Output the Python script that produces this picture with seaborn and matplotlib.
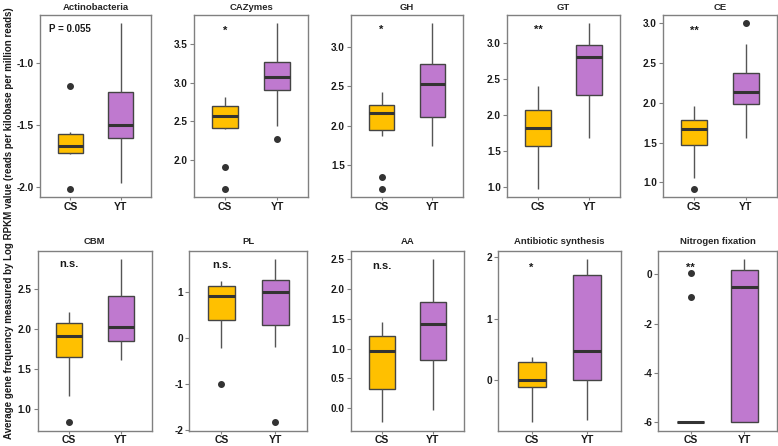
import numpy as np
import pandas as pd
import matplotlib
matplotlib.use("Agg")
import matplotlib.pyplot as plt
import seaborn as sns

# ---------------- data ----------------
groups = ["CS", "YT"]

titles = ["Actinobacteria", "CAZymes", "GH", "GT", "CE",
          "CBM", "PL", "AA", "Antibiotic synthesis", "Nitrogen fixation"]

actino_cs = [-2.01, -1.735, -1.73, -1.72, -1.70, -1.68, -1.668, -1.63, -1.60, -1.572, -1.56, -1.553, -1.19]
actino_yt = [-1.966, -1.80, -1.70, -1.607, -1.57, -1.53, -1.50, -1.42, -1.33, -1.234, -1.10, -0.90, -0.684]

cazy_cs = [1.626, 1.909, 2.40, 2.418, 2.48, 2.53, 2.565, 2.62, 2.66, 2.695, 2.74, 2.78, 2.82]
cazy_yt = [2.27, 2.44, 2.70, 2.91, 2.98, 3.03, 3.08, 3.15, 3.22, 3.27, 3.40, 3.60, 3.77]

gh_cs = [1.196, 1.34, 1.87, 1.94, 2.02, 2.10, 2.153, 2.19, 2.23, 2.255, 2.32, 2.38, 2.42]
gh_yt = [1.74, 1.90, 2.02, 2.11, 2.30, 2.42, 2.525, 2.60, 2.70, 2.78, 2.95, 3.15, 3.30]

gt_cs = [0.97, 1.20, 1.40, 1.566, 1.65, 1.74, 1.81, 1.90, 1.98, 2.066, 2.18, 2.30, 2.40]
gt_yt = [1.68, 1.95, 2.15, 2.27, 2.50, 2.68, 2.80, 2.86, 2.92, 2.97, 3.08, 3.18, 3.27]

ce_cs = [0.92, 1.054, 1.30, 1.475, 1.56, 1.63, 1.677, 1.72, 1.75, 1.78, 1.85, 1.92, 1.957]
ce_yt = [1.558, 1.75, 1.90, 1.98, 2.05, 2.10, 2.135, 2.20, 2.30, 2.375, 2.50, 2.735, 3.0]

cbm_cs = [0.835, 1.17, 1.45, 1.657, 1.75, 1.85, 1.913, 1.98, 2.04, 2.083, 2.13, 2.18, 2.215]
cbm_yt = [1.61, 1.72, 1.80, 1.85, 1.93, 1.98, 2.03, 2.15, 2.30, 2.417, 2.55, 2.70, 2.88]

pl_cs = [-0.985, -0.21, 0.15, 0.40, 0.60, 0.80, 0.93, 1.02, 1.10, 1.144, 1.18, 1.21, 1.24]
pl_yt = [-1.83, -0.20, 0.05, 0.295, 0.55, 0.80, 1.01, 1.12, 1.20, 1.27, 1.40, 1.55, 1.73]

aa_cs = [-0.233, 0.0, 0.15, 0.316, 0.60, 0.80, 0.967, 1.08, 1.15, 1.216, 1.30, 1.38, 1.445]
aa_yt = [-0.02, 0.30, 0.60, 0.81, 1.05, 1.25, 1.41, 1.55, 1.68, 1.78, 2.00, 2.25, 2.50]

anti_cs = [-0.68, -0.40, -0.20, -0.10, -0.06, -0.03, 0.0, 0.08, 0.18, 0.30, 0.34, 0.37, 0.387]
anti_yt = [-0.65, -0.40, -0.15, 0.0, 0.15, 0.30, 0.484, 0.80, 1.30, 1.715, 1.80, 1.90, 1.97]

nfix_cs = [-6, -6, -6, -6, -6, -6, -6, -6, -6, -6, -6, -0.915, 0.07]
nfix_yt = [-6, -6, -6, -6, -4.0, -2.0, -0.50, -0.30, -0.10, 0.16, 0.30, 0.45, 0.63]

panel_data = [
    (actino_cs, actino_yt), (cazy_cs, cazy_yt), (gh_cs, gh_yt), (gt_cs, gt_yt), (ce_cs, ce_yt),
    (cbm_cs, cbm_yt), (pl_cs, pl_yt), (aa_cs, aa_yt), (anti_cs, anti_yt), (nfix_cs, nfix_yt),
]

# significance labels and their y positions
sig_labels = ["P = 0.055", "*", "*", "**", "**", "n.s.", "n.s.", "n.s.", "*", "**"]
sig_y = [-0.73, 3.67, 3.22, 3.18, 2.90, 2.82, 1.59, 2.38, 1.82, 0.27]

yticks = [
    [-2.0, -1.5, -1.0], [2.0, 2.5, 3.0, 3.5], [1.5, 2.0, 2.5, 3.0],
    [1.0, 1.5, 2.0, 2.5, 3.0], [1.0, 1.5, 2.0, 2.5, 3.0],
    [1.0, 1.5, 2.0, 2.5], [-2, -1, 0, 1], [0.0, 0.5, 1.0, 1.5, 2.0, 2.5],
    [0, 1, 2], [-6, -4, -2, 0],
]
int_ticks = [False, False, False, False, False, False, True, False, True, True]

ylabel = "Average gene frequency measured by Log RPKM value (reads per kilobase per million reads)"

colors = {"CS": "#FFC000", "YT": "#BF79CF"}

# ---------------- style ----------------
sns.set_theme(style="ticks")
plt.rcParams["font.family"] = ["Liberation Sans", "DejaVu Sans"]
plt.rcParams["font.weight"] = "bold"

W, H = 778, 446
fig = plt.figure(figsize=(W / 100, H / 100), dpi=100)

# axes boxes in pixels: (left, right, top, bottom)
top_row = [(40, 151), (194, 308.3), (351, 463), (507.3, 620), (663.3, 776.7)]
bot_row = [(37.7, 151.7), (189.3, 307.3), (351, 463.7), (498.3, 620.7), (658.3, 776.7)]
boxes = [(l, r, 15, 197) for l, r in top_row] + [(l, r, 250.7, 430.5) for l, r in bot_row]

frame_col = "#808080"
line_col = "#444444"

for i, (l, r, t, b) in enumerate(boxes):
    ax = fig.add_axes([l / W, 1 - b / H, (r - l) / W, (b - t) / H])
    cs, yt = panel_data[i]
    df = pd.DataFrame({
        "group": ["CS"] * len(cs) + ["YT"] * len(yt),
        "value": list(cs) + list(yt),
    })
    sns.boxplot(
        data=df, x="group", y="value", hue="group", order=groups, hue_order=groups,
        palette=colors, saturation=1, dodge=False, width=0.5, linewidth=1.0, linecolor=line_col,
        fliersize=4, legend=False, ax=ax, showcaps=False,
        flierprops=dict(marker="o", markerfacecolor="#333333", markeredgecolor="#333333"),
        medianprops=dict(color="#333333", linewidth=2.2),
        whiskerprops=dict(color="#555555", linewidth=1.0),
        boxprops=dict(edgecolor=line_col, linewidth=1.0),
    )
    ax.set_xlim(-0.6, 1.6)
    ax.set_title(titles[i], fontsize=6.8, fontweight="bold", pad=3.8 if i < 5 else 5.0)
    ax.set_xlabel("")
    ax.set_ylabel("")
    ax.set_yticks(yticks[i])
    if int_ticks[i]:
        ax.set_yticklabels([f"{v:d}" for v in yticks[i]])
    else:
        ax.set_yticklabels([f"{v:.1f}" for v in yticks[i]])
    ax.tick_params(axis="y", labelsize=7.2, length=3, width=0.8, color=frame_col, pad=1.5)
    ax.tick_params(axis="x", labelsize=7.5, length=2.5, width=0.8, color=frame_col, pad=1)
    for lab in ax.get_xticklabels() + ax.get_yticklabels():
        lab.set_fontweight("bold")
        lab.set_color("#1a1a1a")
    for sp in ax.spines.values():
        sp.set_visible(True)
        sp.set_color(frame_col)
        sp.set_linewidth(1.0)
    ax.grid(False)
    fs = 7 if sig_labels[i] == "P = 0.055" else 8
    ax.text(0, sig_y[i], sig_labels[i], ha="center", va="center",
            fontsize=fs, fontweight="bold", color="#1a1a1a")

fig.text(0.011, 0.5, ylabel, rotation=90, ha="center", va="center",
         fontsize=7.0, fontweight="bold", color="#1a1a1a")

fig.savefig("out.png", dpi=100)
